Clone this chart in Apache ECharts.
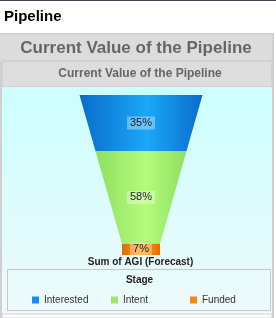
<!DOCTYPE html>
<html><head><meta charset="utf-8">
<script src="https://cdn.jsdelivr.net/npm/echarts@6/dist/echarts.min.js"></script>
<style>html,body{margin:0;padding:0;background:#fff}#c{width:276px;height:318px}</style>
</head><body><div id="c"></div>
<script>
const stages = ['Interested', 'Intent', 'Funded'];
const shares = [35, 58, 7];
const pageTitle = 'Pipeline';
const chartTitle = 'Current Value of the Pipeline';
const measureName = 'Sum of AGI (Forecast)';
const legendTitle = 'Stage';

const darkColors = ['#0a6bcb', '#8fdf5f', '#e06d00'];
const lightColors = ['#1aa8f9', '#b4fc7c', '#ff9c1c'];
const legendColors = ['#1a8cf0', '#9ce86a', '#f08a10'];
const legendLefts = [32, 111, 190];

const TOP_HW = 61.5, NECK_HW = 19;
const total = shares.reduce((s, v) => s + v, 0);
const starts = [];
let acc = 0;
shares.forEach(v => { starts.push(acc / total * 100); acc += v; });
const neckStart = starts[starts.length - 1];
function hw(c) { return c >= neckStart - 1e-9 ? NECK_HW : TOP_HW - (TOP_HW - NECK_HW) * c / neckStart; }

const FONT = 'Liberation Sans, Arial, sans-serif';

const series = stages.map((name, i) => ({
  name: name,
  type: 'custom',
  itemStyle: { color: legendColors[i] },
  encode: { x: -1, y: [1, 2] },
  data: [[i, starts[i], starts[i] + shares[i] / total * 100, shares[i]]],
  renderItem: function (params, api) {
    const a = api.value(1), b = api.value(2);
    const pts = [[-hw(a), a], [hw(a), a], [hw(b), b], [-hw(b), b]].map(p => api.coord(p));
    const mid = api.coord([0, (a + b) / 2]);
    return {
      type: 'group',
      children: [{
        type: 'polygon',
        shape: { points: pts },
        style: {
          fill: new echarts.graphic.LinearGradient(0, 0, 1, 0, [
            { offset: 0, color: darkColors[i] },
            { offset: 0.55, color: lightColors[i] },
            { offset: 1, color: darkColors[i] }
          ])
        }
      }, {
        type: 'text',
        style: {
          x: mid[0], y: mid[1],
          text: api.value(3) + '%',
          align: 'center', verticalAlign: 'middle',
          fontFamily: FONT,
          fontSize: 11, fill: '#222',
          backgroundColor: 'rgba(255,255,255,0.35)',
          padding: [1, 3, 1, 3]
        }
      }]
    };
  }
}));

const legends = stages.map((name, i) => ({
  data: [name],
  left: legendLefts[i], top: 295, padding: 0,
  icon: 'rect', itemWidth: 7, itemHeight: 7,
  selectedMode: false,
  textStyle: { fontFamily: FONT, fontSize: 10, color: '#333' }
}));

const chart = echarts.init(document.getElementById('c'), null, { renderer: 'canvas' });
chart.setOption({
  animation: false,
  grid: { left: 71, width: 140, top: 95, height: 160 },
  xAxis: { type: 'value', min: -70, max: 70, show: false },
  yAxis: { type: 'value', min: 0, max: 100, inverse: true, show: false },
  legend: legends,
  graphic: [
    { type: 'rect', z: -10, shape: { x: 0, y: 0, width: 276, height: 1 }, style: { fill: '#3a4656' } },
    { type: 'rect', z: -10, shape: { x: 0, y: 33, width: 272, height: 29 }, style: { fill: '#dcdcdc' } },
    { type: 'rect', z: -10, shape: { x: 0, y: 33, width: 272, height: 1 }, style: { fill: '#c8c8c8' } },
    { type: 'rect', z: -10, shape: { x: 2, y: 61, width: 270, height: 26 }, style: { fill: '#dddddd', stroke: '#c6c6c6', lineWidth: 1 } },
    { type: 'rect', z: -10, shape: { x: 0, y: 62, width: 2, height: 256 }, style: { fill: '#d0d0d0' } },
    { type: 'rect', z: -10, shape: { x: 272, y: 33, width: 2, height: 285 }, style: { fill: '#d0d0d0' } },
    { type: 'rect', z: -10, shape: { x: 2, y: 87, width: 270, height: 226 },
      style: { fill: new echarts.graphic.LinearGradient(0, 0, 0, 1, [
        { offset: 0, color: '#ccffff' }, { offset: 1, color: '#eefafb' }]) } },
    { type: 'rect', z: -10, shape: { x: 2, y: 314, width: 270, height: 4 }, style: { fill: '#ffffff', stroke: '#d0d0d0', lineWidth: 1 } },
    { type: 'rect', z: -5, shape: { x: 7.5, y: 269.5, width: 263, height: 41 }, style: { fill: 'none', stroke: '#c8c8c8', lineWidth: 1 } },
    { type: 'text', style: { x: 4, y: 17, text: pageTitle, verticalAlign: 'middle', fontFamily: FONT, fontWeight: 'bold', fontSize: 15, fill: '#000' } },
    { type: 'text', style: { x: 136, y: 48, text: chartTitle, align: 'center', verticalAlign: 'middle', fontFamily: FONT, fontWeight: 'bold', fontSize: 17, fill: '#666' } },
    { type: 'text', style: { x: 140, y: 74, text: chartTitle, align: 'center', verticalAlign: 'middle', fontFamily: FONT, fontWeight: 'bold', fontSize: 12, fill: '#666' } },
    { type: 'text', style: { x: 140.5, y: 262, text: measureName, align: 'center', verticalAlign: 'middle', fontFamily: FONT, fontWeight: 'bold', fontSize: 10, fill: '#222' } },
    { type: 'text', style: { x: 139.5, y: 280, text: legendTitle, align: 'center', verticalAlign: 'middle', fontFamily: FONT, fontWeight: 'bold', fontSize: 10, fill: '#222' } }
  ],
  series: series
});
</script>
</body></html>
